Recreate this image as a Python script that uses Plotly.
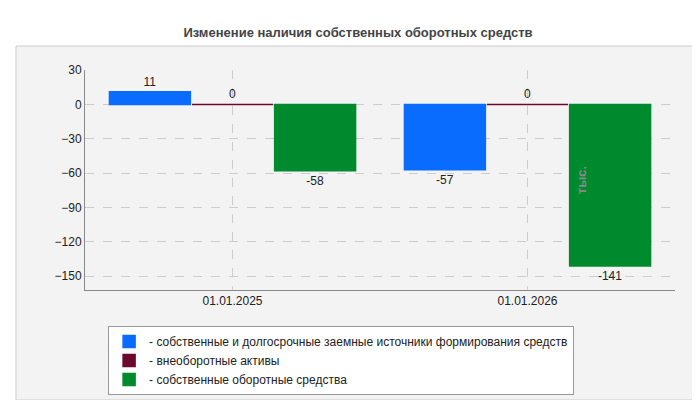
import plotly.graph_objects as go

dates = ['01.01.2025', '01.01.2026']
own_long = [11, -57]
non_current = [0, 0]
working = [-58, -141]
names = ['- собственные и долгосрочные заемные источники формирования средств',
         '- внеоборотные активы',
         '- собственные оборотные средства']
colors = ['#0a6cff', '#6b0a2e', '#008a2e']

fig = go.Figure()
for vals, name, col in zip([own_long, non_current, working], names, colors):
    fig.add_trace(go.Bar(x=dates, y=vals, name=name, marker_color=col,
                         marker_line=dict(color=col, width=1.5),
                         text=[str(v) for v in vals], textposition='outside',
                         textfont=dict(color='#222', size=12), cliponaxis=False))

fig.update_layout(
    width=700, height=400,
    margin=dict(l=77, r=33, t=62, b=118, autoexpand=False),
    paper_bgcolor='white', plot_bgcolor='#fdfdf8',
    font=dict(family='Arial, Liberation Sans', size=12, color='#222'),
    title=dict(text='<b>Изменение наличия собственных оборотных средств</b>',
               x=0.5, y=0.95, font=dict(size=13, color='#444')),
    barmode='group', bargap=0.16, bargroupgap=0.02,
    showlegend=True,
    legend=dict(xref='container', yref='container', x=0.143, y=0.205,
                xanchor='left', yanchor='top', tracegroupgap=0,
                bgcolor='white', bordercolor='#999', borderwidth=1,
                font=dict(size=12, color='#222'), traceorder='normal'),
    shapes=[dict(type='rect', xref='paper', yref='paper', x0=-0.117, x1=1.042,
                 y0=-0.5, y1=1.109, fillcolor='#f3f3f3',
                 line=dict(color='#ccc', width=1), layer='below')],
)
fig.update_xaxes(showgrid=True, gridcolor='#ccc', griddash='dash', automargin=False,
                 showline=True, linecolor='#888', ticks='', tickfont=dict(size=12))
fig.update_yaxes(range=[-162, 30], tickvals=[30, 0, -30, -60, -90, -120, -150],
                 showgrid=True, gridcolor='#ccc', griddash='dash', zeroline=False,
                 showline=True, linecolor='#888', automargin=False,
                 title=dict(text='<b>тыс.</b>', font=dict(size=13, color='#888'), standoff=30))
fig.write_html('out.html')
